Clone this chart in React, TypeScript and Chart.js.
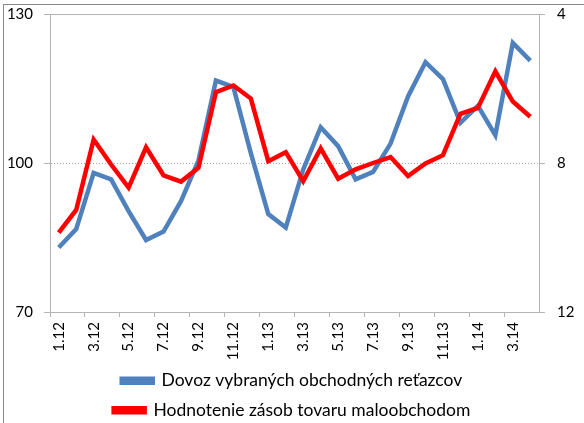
import React, { useEffect, useRef } from "react";
import { Chart, registerables } from "chart.js";

Chart.register(...registerables);

const categories = [
  "1.12", "2.12", "3.12", "4.12", "5.12", "6.12", "7.12", "8.12", "9.12", "10.12", "11.12", "12.12",
  "1.13", "2.13", "3.13", "4.13", "5.13", "6.13", "7.13", "8.13", "9.13", "10.13", "11.13", "12.13",
  "1.14", "2.14", "3.14", "4.14",
];

const dovozValues = [
  83.0, 86.7, 98.0, 96.7, 90.3, 84.5, 86.2, 92.3, 100.5, 116.6, 115.3, 102.0,
  89.7, 87.0, 98.7, 107.2, 103.4, 96.7, 98.2, 103.9, 113.4, 120.3, 116.9, 108.1,
  111.5, 105.6, 124.2, 120.6,
];

const zasobyValues = [
  9.87, 9.26, 7.37, 8.04, 8.66, 7.58, 8.33, 8.5, 8.13, 6.1, 5.92, 6.27,
  7.95, 7.71, 8.49, 7.61, 8.42, 8.17, 8.0, 7.84, 8.35, 8.01, 7.79, 6.68,
  6.52, 5.54, 6.35, 6.76,
];

const seriesNames = ["Dovoz vybraných obchodných reťazcov", "Hodnotenie zásob tovaru maloobchodom"];

const leftTicks = [70, 100, 130];
const rightTicks = [4, 8, 12];

const FONT = "Lato, 'Open Sans', sans-serif";
const AXIS = "#B4B4B4";

export default function App() {
  const ref = useRef<HTMLCanvasElement | null>(null);

  useEffect(() => {
    document.body.style.margin = "0";
    const canvas = ref.current;
    if (!canvas) return;
    const chart = new Chart(canvas, {
      type: "line",
      data: {
        labels: categories,
        datasets: [
          {
            label: seriesNames[0],
            data: dovozValues,
            borderColor: "#4F81BD",
            backgroundColor: "#4F81BD",
            borderWidth: 4.5,
            pointRadius: 0,
            tension: 0,
            yAxisID: "y",
            order: 1,
          },
          {
            label: seriesNames[1],
            data: zasobyValues,
            borderColor: "#FF0000",
            backgroundColor: "#FF0000",
            borderWidth: 4.5,
            pointRadius: 0,
            tension: 0,
            yAxisID: "y2",
            order: 0,
          },
        ],
      },
      options: {
        animation: false,
        responsive: false,
        maintainAspectRatio: false,
        layout: { padding: { top: 0, left: 0, right: 0, bottom: -6 } },
        plugins: {
          tooltip: { enabled: false },
          legend: {
            position: "bottom",
            labels: {
              boxWidth: 31,
              boxHeight: 4,
              padding: 12,
              color: "#000",
              font: { family: FONT, size: 17.5 },
              sort: (a: any, b: any) => a.datasetIndex - b.datasetIndex,
            },
          },
        },
        scales: {
          x: {
            offset: true,
            grid: {
              offset: true,
              drawOnChartArea: false,
              tickLength: 5,
              tickColor: (c: any) => (c.index % 2 === 0 ? AXIS : "rgba(0,0,0,0)"),
            },
            border: { color: AXIS, width: 1 },
            ticks: {
              autoSkip: false,
              minRotation: 90,
              maxRotation: 90,
              padding: 5,
              color: "#000",
              font: { family: FONT, size: 15 },
              callback: (_v: any, i: number) => (i % 2 === 0 ? categories[i] : ""),
            },
            afterFit: (s: any) => {
              s.height = 48;
            },
          },
          y: {
            position: "left",
            min: leftTicks[0],
            max: leftTicks[2],
            afterBuildTicks: (s: any) => {
              s.ticks = leftTicks.map((v) => ({ value: v }));
            },
            grid: {
              color: (c: any) => (c.tick && c.tick.value === 100 ? "#A0A0A0" : "rgba(0,0,0,0)"),
              tickColor: AXIS,
              tickLength: 6,
              lineWidth: 1,
            },
            border: { color: AXIS, dash: [1, 2] },
            ticks: {
              padding: 11,
              color: "#000",
              font: { family: FONT, size: 15 },
            },
            afterFit: (s: any) => {
              s.width = 50;
              s.paddingTop = 14;
              s.paddingBottom = 0;
            },
          },
          y2: {
            position: "right",
            reverse: true,
            min: rightTicks[0],
            max: rightTicks[2],
            afterBuildTicks: (s: any) => {
              s.ticks = rightTicks.map((v) => ({ value: v }));
            },
            grid: {
              drawOnChartArea: true,
              color: (c: any) => (c.tick && c.tick.value === 4 ? AXIS : "rgba(0,0,0,0)"),
              tickColor: AXIS,
              tickLength: 6,
            },
            border: { color: AXIS },
            ticks: {
              padding: 12,
              color: "#000",
              font: { family: FONT, size: 15 },
            },
            afterFit: (s: any) => {
              s.width = 45;
              s.paddingTop = 14;
              s.paddingBottom = 0;
            },
          },
        },
      },
    });
    return () => chart.destroy();
  }, []);

  return (
    <div style={{ position: "relative", width: 584, height: 423, background: "#fff", overflow: "hidden" }}>
      <canvas ref={ref} width={584} height={423} style={{ display: "block", width: 584, height: 423 }} />
      <div
        style={{
          position: "absolute",
          left: 3,
          top: 4,
          right: -2,
          bottom: -2,
          borderTop: "1.5px solid #8A8A8A",
          borderLeft: "1.5px solid #8A8A8A",
          pointerEvents: "none",
        }}
      />
    </div>
  );
}
